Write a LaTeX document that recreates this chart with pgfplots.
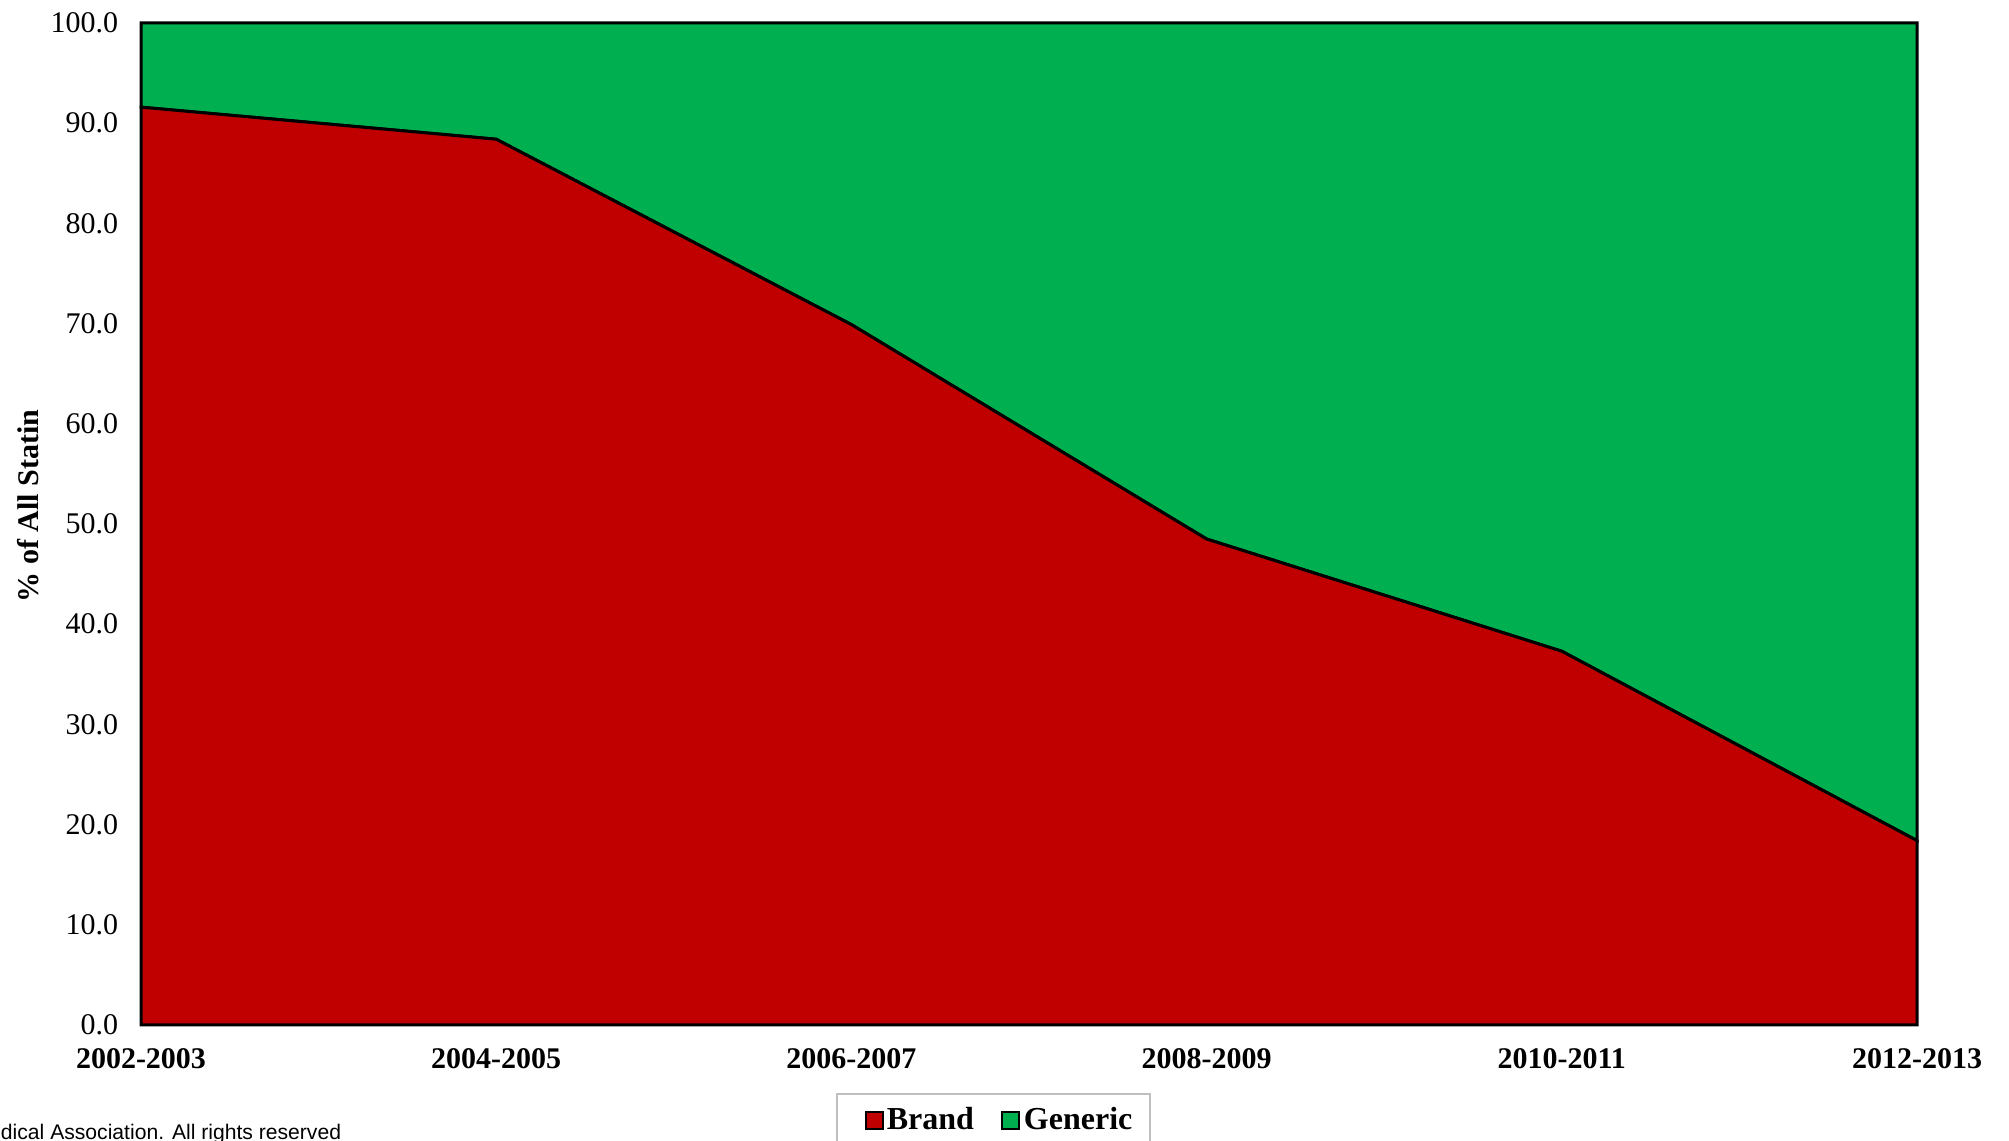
\documentclass[border=0pt]{standalone}
\usepackage{pgfplots}
\pgfplotsset{compat=1.18}
\usepackage{fontspec}
\setmainfont{Liberation Serif}
\newfontfamily\arialfont{Liberation Sans}
\definecolor{brandred}{HTML}{C00000}
\definecolor{genericgreen}{HTML}{00B050}
\begin{document}
\begin{tikzpicture}
\begin{axis}[
  name=ax,
  scale only axis,
  width=710.4pt, height=400.8pt,
  xmin=0, xmax=5, ymin=0, ymax=100,
  stack plots=y,
  clip=false,
  axis line style={draw=none},
  major tick length=0pt,
  xtick={0,1,2,3,4,5},
  xticklabels={2002-2003,2004-2005,2006-2007,2008-2009,2010-2011,2012-2013},
  xticklabel style={font=\bfseries\fontsize{12}{14}\selectfont, yshift=-6pt},
  ytick={0,10,...,100},
  yticklabel style={font=\fontsize{12}{14}\selectfont, xshift=-5.6pt},
  /pgf/number format/assume math mode=true,
  /pgf/number format/.cd, fixed, fixed zerofill, precision=1, /pgfplots/.cd,
  ylabel={\% of All Statin},
  every axis y label/.style={at={(axis description cs:0,0.518)}, xshift=-45.2pt, rotate=90, anchor=center,
    font=\bfseries\fontsize{12}{14}\selectfont},
  legend columns=2,
  legend style={at={(axis description cs:0.48,0)}, anchor=north, yshift=-27.2pt,
    draw=gray!50, line width=0.6pt, inner xsep=6pt, inner ysep=4.6pt,
    font=\bfseries\fontsize{12.8}{14}\selectfont,
    nodes={inner sep=1pt},
    /tikz/every even column/.append style={column sep=10pt}},
]
\addplot[fill=brandred, draw=black, line width=1.2pt,
  legend image code/.code={\draw[fill=brandred, draw=black, line width=0.8pt] (0pt,-3.3pt) rectangle (6.7pt,3.4pt); \path[draw=none, fill=none] (-5.6pt,0pt) -- (7.3pt,0pt);}]
  coordinates {(0,91.6) (1,88.4) (2,69.9) (3,48.5) (4,37.3) (5,18.4)} \closedcycle;
\addlegendentry{Brand}
\addplot[fill=genericgreen, draw=black, line width=1.2pt,
  legend image code/.code={\draw[fill=genericgreen, draw=black, line width=0.8pt] (0pt,-3.3pt) rectangle (6.7pt,3.4pt); \path[draw=none, fill=none] (0pt,0pt) -- (7.6pt,0pt);}]
  coordinates {(0,8.4) (1,11.6) (2,30.1) (3,51.5) (4,62.7) (5,81.6)} \closedcycle;
\addlegendentry{Generic}
\draw[gray!70, line width=0.8pt] (rel axis cs:0,0) -- (rel axis cs:1,0);
\end{axis}
\node[anchor=base west, font=\arialfont\fontsize{8.45}{9.5}\selectfont, inner sep=0pt]
  at ([shift={(-56.2pt,-45.8pt)}]ax.south west) {dical Association. All rights reserved};
\pgfresetboundingbox
\path ([shift={(-56.4pt,-46.4pt)}]ax.south west) rectangle ([shift={(36.8pt,9.2pt)}]ax.north east);
\end{tikzpicture}
\end{document}
